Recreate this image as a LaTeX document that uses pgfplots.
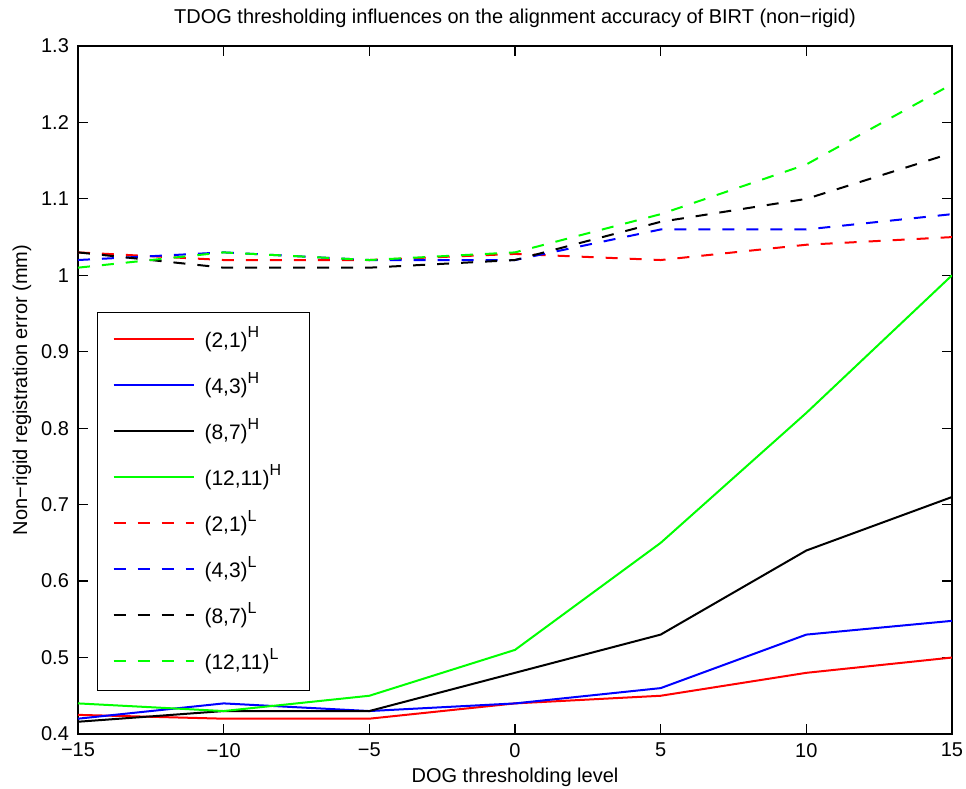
\documentclass[border=0pt]{standalone}
\usepackage{fontspec}
\setmainfont{Liberation Sans}
\usepackage{pgfplots}
\pgfplotsset{compat=1.18}
\definecolor{mgreen}{rgb}{0,1,0}
\newcommand\legtxt[2]{\makebox[45pt][l]{#1\raisebox{0.48em}{\fontsize{8}{8}\selectfont #2}}}

\begin{document}
\begin{tikzpicture}
\begin{axis}[
    scale only axis,
    width=437pt, height=344pt,
    xmin=-15, xmax=15,
    ymin=0.4, ymax=1.3,
    xtick={-15,-10,-5,0,5,10,15},
    xticklabels={−15,−10,−5,0,5,10,15},
    ytick={0.4,0.5,0.6,0.7,0.8,0.9,1,1.1,1.2,1.3},
    yticklabels={0.4,0.5,0.6,0.7,0.8,0.9,1,1.1,1.2,1.3},
    axis line style={line width=0.75pt},
    major tick style={line width=0.6pt, black},
    major tick length=5pt,
    tick align=inside,
    font=\fontsize{10}{12}\selectfont,
    tick label style={font=\fontsize{10}{12}\selectfont},
    xticklabel style={yshift=-1pt},
    yticklabel style={xshift=-1pt},
    title={TDOG thresholding influences on the alignment accuracy of BIRT (non−rigid)},
    title style={font=\fontsize{10}{12}\selectfont, yshift=-0.5pt},
    xlabel={DOG thresholding level},
    ylabel={Non−rigid registration error (mm)},
    xlabel style={font=\fontsize{10}{12}\selectfont, yshift=1.5pt},
    ylabel style={font=\fontsize{10}{12}\selectfont, yshift=-2pt},
    every axis plot/.append style={line width=1pt},
    legend image code/.code={\draw[#1] (0pt,0.75pt) -- (40pt,0.75pt);},
    legend cell align=left,
    legend style={
        at={(0.0217,0.613)}, anchor=north west,
        font=\fontsize{10.5}{12}\selectfont,
        draw=black, line width=0.6pt,
        inner xsep=7.5pt, inner ysep=8.5pt,
        row sep=12pt, column sep=5pt,
        nodes={inner sep=0pt, text height=9pt, text depth=2pt},
    },
]
\addplot[red] coordinates {(-15,0.425) (-10,0.42) (-5,0.42) (0,0.44) (5,0.45) (10,0.48) (15,0.50)};
\addplot[blue] coordinates {(-15,0.42) (-10,0.44) (-5,0.43) (0,0.44) (5,0.46) (10,0.53) (15,0.548)};
\addplot[black] coordinates {(-15,0.416) (-10,0.43) (-5,0.43) (0,0.48) (5,0.53) (10,0.64) (15,0.71)};
\addplot[mgreen] coordinates {(-15,0.44) (-10,0.43) (-5,0.45) (0,0.51) (5,0.65) (10,0.82) (15,1.00)};
\addplot[red, dash pattern=on 6pt off 6pt] coordinates {(-15,1.03) (-10,1.02) (-5,1.02) (0,1.028) (5,1.02) (10,1.04) (15,1.05)};
\addplot[blue, dash pattern=on 6pt off 6pt] coordinates {(-15,1.02) (-10,1.03) (-5,1.02) (0,1.02) (5,1.06) (10,1.06) (15,1.08)};
\addplot[black, dash pattern=on 6pt off 6pt] coordinates {(-15,1.03) (-10,1.01) (-5,1.01) (0,1.02) (5,1.07) (10,1.10) (15,1.16)};
\addplot[mgreen, dash pattern=on 6pt off 6pt] coordinates {(-15,1.01) (-10,1.03) (-5,1.02) (0,1.03) (5,1.08) (10,1.145) (15,1.25)};
\legend{\legtxt{(2,1)}{H}, \legtxt{(4,3)}{H}, \legtxt{(8,7)}{H}, \legtxt{(12,11)}{H},
        \legtxt{(2,1)}{L}, \legtxt{(4,3)}{L}, \legtxt{(8,7)}{L}, \legtxt{(12,11)}{L}}
\end{axis}
\pgfresetboundingbox
\path[use as bounding box] ([xshift=-39pt,yshift=-27.5pt]current axis.south west) rectangle ([xshift=7pt,yshift=23pt]current axis.north east);
\end{tikzpicture}
\end{document}
